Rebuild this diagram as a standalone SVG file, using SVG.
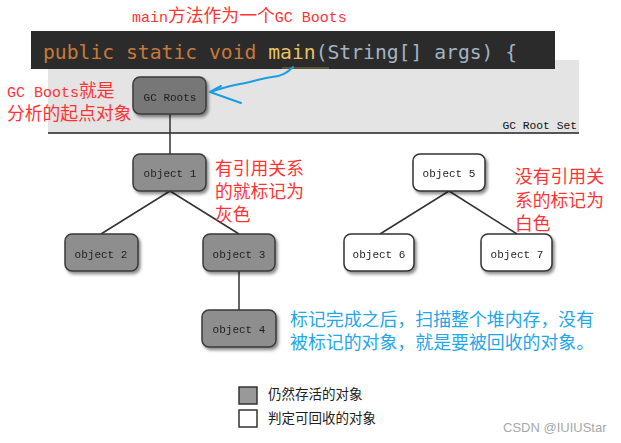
<svg xmlns="http://www.w3.org/2000/svg" width="621" height="443" viewBox="0 0 621 443">
  <defs>
    <filter id="shadow" x="-20%" y="-20%" width="150%" height="160%">
      <feDropShadow dx="2" dy="2.5" stdDeviation="1.6" flood-color="#000" flood-opacity="0.45"/>
    </filter>
    <style>
      .node-live rect { fill: #8e8e8e; stroke: #3a3a3a; stroke-width: 1.5; }
      .node-root rect { fill: #777777; stroke: #3a3a3a; stroke-width: 1.5; }
      .node-dead rect { fill: #ffffff; stroke: #333333; stroke-width: 1.5; }
      .label { font-family: "Liberation Mono", "DejaVu Sans Mono", monospace; font-size: 11px; fill: #1e1e1e; text-anchor: middle; }
      .edge { stroke: #333333; stroke-width: 1.5; fill: none; }
      .note-red { font-family: "Noto Sans CJK SC", "Liberation Sans", sans-serif; font-size: 17.8px; fill: #ff3333; }
      .latin-red { font-family: "Liberation Mono", monospace; font-size: 15px; }
      .note-blue { font-family: "Noto Sans CJK SC", "Liberation Sans", sans-serif; font-size: 17.9px; fill: #22a7ea; }
      .code { font-family: "DejaVu Sans Mono", "Liberation Mono", monospace; font-size: 19.7px; }
      .legend-text { font-family: "Noto Sans CJK SC", "Liberation Sans", sans-serif; font-size: 13.5px; fill: #222; }
    </style>
  </defs>

  <rect width="621" height="443" fill="#ffffff"/>

  <!-- root set band -->
  <g id="root-set">
    <rect x="48" y="60" width="531" height="73" fill="#e4e4e4"/>
    <line x1="48" y1="133" x2="579" y2="133" stroke="#555" stroke-width="2"/>
    <text x="577" y="129" text-anchor="end" font-family="Liberation Mono, monospace" font-size="11.3px" fill="#111">GC Root Set</text>
  </g>

  <!-- code line -->
  <g id="code-bar">
    <rect x="31" y="31" width="524" height="38" fill="#2b2b2b"/>
    <text x="43" y="59" class="code"><tspan fill="#c8793a">public static void </tspan><tspan fill="#e8c063">main</tspan><tspan fill="#a3b3c4">(String[] args) {</tspan></text>
    <line x1="282" y1="68" x2="329" y2="68" stroke="#8c7c48" stroke-width="1"/>
  </g>

  <!-- connectors -->
  <g id="connectors">
    <path class="edge" d="M170,114 V154"/>
    <path class="edge" d="M170,191 L101,234"/>
    <path class="edge" d="M170,191 L239,234"/>
    <path class="edge" d="M239,271 V310"/>
    <path class="edge" d="M449,191 L380,234"/>
    <path class="edge" d="M449,191 L517,234"/>
  </g>

  <!-- nodes -->
  <g id="gc-roots" class="node-root" filter="url(#shadow)">
    <rect x="133" y="77" width="73" height="37" rx="7"/>
    <text class="label" x="170" y="101">GC Roots</text>
  </g>
  <g id="object-1" class="node-live" filter="url(#shadow)">
    <rect x="133" y="154" width="73" height="37" rx="7"/>
    <text class="label" x="170" y="177">object 1</text>
  </g>
  <g id="object-2" class="node-live" filter="url(#shadow)">
    <rect x="65" y="234" width="73" height="37" rx="7"/>
    <text class="label" x="101" y="258">object 2</text>
  </g>
  <g id="object-3" class="node-live" filter="url(#shadow)">
    <rect x="203" y="234" width="72" height="37" rx="7"/>
    <text class="label" x="239" y="258">object 3</text>
  </g>
  <g id="object-4" class="node-live" filter="url(#shadow)">
    <rect x="202" y="310" width="74" height="37" rx="7"/>
    <text class="label" x="239" y="333">object 4</text>
  </g>
  <g id="object-5" class="node-dead" filter="url(#shadow)">
    <rect x="413" y="154" width="72" height="37" rx="7"/>
    <text class="label" x="449" y="177">object 5</text>
  </g>
  <g id="object-6" class="node-dead" filter="url(#shadow)">
    <rect x="344" y="234" width="70" height="37" rx="7"/>
    <text class="label" x="379" y="258">object 6</text>
  </g>
  <g id="object-7" class="node-dead" filter="url(#shadow)">
    <rect x="481" y="234" width="71" height="37" rx="7"/>
    <text class="label" x="517" y="258">object 7</text>
  </g>

  <!-- hand-drawn pointer from main() to GC Roots -->
  <g id="pointer" fill="none" stroke="#1a9ee2" stroke-width="2" stroke-linecap="round" stroke-linejoin="round">
    <path d="M293,67 C287,73 282,76 272,77 C262,78 252,82 240,84 C228,86 220,89 210,92"/>
    <path d="M221,86 L210,92 L241,103"/>
  </g>

  <!-- annotations -->
  <g id="notes">
    <text class="note-red" x="132" y="22"><tspan class="latin-red">main</tspan>方法作为一个<tspan class="latin-red">GC Boots</tspan></text>
    <text class="note-red" x="7" y="96.5"><tspan class="latin-red">GC Boots</tspan>就是</text>
    <text class="note-red" x="7" y="119.5">分析的起点对象</text>
    <text class="note-red" x="215" y="174.5">有引用关系</text>
    <text class="note-red" x="215" y="197.5">的就标记为</text>
    <text class="note-red" x="215" y="221">灰色</text>
    <text class="note-red" x="515" y="183">没有引用关</text>
    <text class="note-red" x="515" y="206.5">系的标记为</text>
    <text class="note-red" x="515" y="229.5">白色</text>
    <text class="note-blue" x="290" y="326">标记完成之后，扫描整个堆内存，没有</text>
    <text class="note-blue" x="290" y="349">被标记的对象，就是要被回收的对象。</text>
  </g>

  <!-- legend -->
  <g id="legend">
    <rect x="239" y="387" width="18" height="17" fill="#999" stroke="#333" stroke-width="1.5"/>
    <rect x="239" y="410" width="18" height="17" fill="#fff" stroke="#333" stroke-width="1.5"/>
    <text class="legend-text" x="268" y="399">仍然存活的对象</text>
    <text class="legend-text" x="268" y="423">判定可回收的对象</text>
  </g>

  <text x="503" y="432" font-family="Liberation Sans, Arial, sans-serif" font-size="13px" fill="#a8a8a8">CSDN @IUIUStar</text>
</svg>
